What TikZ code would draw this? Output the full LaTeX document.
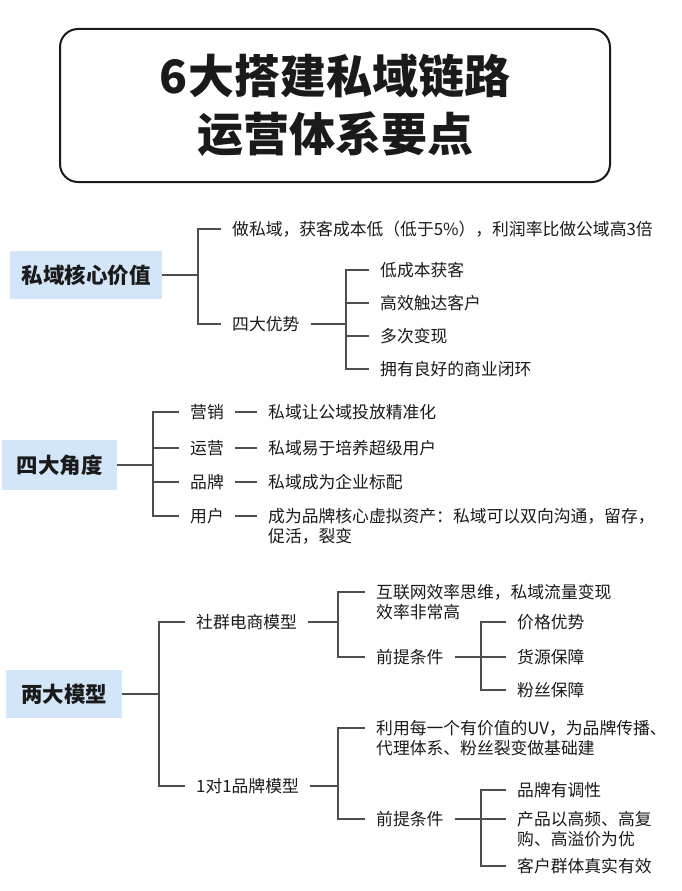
\documentclass[tikz,border=0pt]{standalone}
\usepackage{fontspec}
\setmainfont{Noto Sans CJK SC}
\usepackage{xcolor}
\usetikzlibrary{positioning}
\definecolor{boxblue}{HTML}{D3E5F8}
\definecolor{linegray}{HTML}{4D4D4D}
\definecolor{inkblack}{HTML}{1A1A1A}

\begin{document}
\begin{tikzpicture}[x=1pt, y=-1pt,
    every node/.style={inner sep=0pt, text=inkblack},
    titlebox/.style={draw=inkblack, line width=2pt, rounded corners=18pt,
      minimum width=550pt, minimum height=153pt, align=center,
      font=\fontsize{46}{58}\selectfont\bfseries},
    topic/.style={fill=boxblue, minimum height=48pt,
      font=\fontsize{21.5}{26}\selectfont\bfseries},
    leaf/.style={anchor=west, inner xsep=11pt, font=\fontsize{16.8}{20}\selectfont},
    multi/.style={leaf, anchor=base west, align=left},
    link/.style={draw=linegray, line width=1.6pt},
  ]

  \useasboundingbox[fill=white] (0,0) rectangle (682,891);

  \node[titlebox] (title) at (335,105.5) {6大搭建私域链路\\运营体系要点};

  \node[topic, minimum width=152pt] (core) at (86,275) {私域核心价值};
  \coordinate (jcore) at (198,275);
  \node[leaf] (cost) at (221,229) {做私域，获客成本低（低于5\%），利润率比做公域高3倍};
  \node[leaf] (adv) at (221,324) {四大优势};
  \coordinate (jadv) at (346,324);
  \node[leaf] (adv1) at (369,270) {低成本获客};
  \node[leaf] (adv2) at (369,303) {高效触达客户};
  \node[leaf] (adv3) at (369,336) {多次变现};
  \node[leaf] (adv4) at (369,369) {拥有良好的商业闭环};

  \draw[link] (core.east) -- (jcore);
  \draw[link] (jcore) |- (cost.west);
  \draw[link] (jcore) |- (adv.west);
  \draw[link] (adv.east) -- (jadv);
  \foreach \i in {1,...,4}
    \draw[link] (jadv) |- (adv\i.west);

  \node[topic, minimum width=115pt, minimum height=50pt] (angle) at (59.5,465) {四大角度};
  \coordinate (jangle) at (153,465);
  \node[leaf] (mkt) at (179,412) {营销};
  \node[leaf] (ops) at (179,448) {运营};
  \node[leaf] (brand) at (179,482) {品牌};
  \node[leaf] (user) at (179,516) {用户};
  \node[leaf] (mktd) at (257,412) {私域让公域投放精准化};
  \node[leaf] (opsd) at (257,448) {私域易于培养超级用户};
  \node[leaf] (brandd) at (257,482) {私域成为企业标配};
  \node[multi] (userd) at (257,542.3) {成为品牌核心虚拟资产：私域可以双向沟通，留存，\\促活，裂变};

  \draw[link] (angle.east) -- (jangle);
  \foreach \n in {mkt,ops,brand,user}
    \draw[link] (jangle) |- (\n.west);
  \draw[link] (mkt.east) -- (mktd.west);
  \draw[link] (ops.east) -- (opsd.west);
  \draw[link] (brand.east) -- (brandd.west);
  \draw[link] (user.east) -- (user.east -| userd.west);

  \node[topic, minimum width=116pt] (model) at (64,694) {两大模型};
  \coordinate (jmodel) at (159,694);
  \node[leaf] (comm) at (185,622) {社群电商模型};
  \node[leaf] (one) at (185,786) {1对1品牌模型};
  \coordinate (jcomm) at (338,622);
  \node[multi] (eff) at (365,618.3) {互联网效率思维，私域流量变现\\效率非常高};
  \node[leaf] (pre) at (365,657) {前提条件};
  \coordinate (jpre) at (481,657);
  \node[leaf] (pre1) at (506,622) {价格优势};
  \node[leaf] (pre2) at (506,657) {货源保障};
  \node[leaf] (pre3) at (506,690) {粉丝保障};
  \coordinate (jone) at (338,786);
  \node[multi] (uv) at (365,754.3) {利用每一个有价值的UV，为品牌传播、\\代理体系、粉丝裂变做基础建};
  \node[leaf] (pretwo) at (365,819) {前提条件};
  \coordinate (jpretwo) at (481,819);
  \node[leaf] (cond1) at (506,790) {品牌有调性};
  \node[multi] (cond2) at (506,845.3) {产品以高频、高复\\购、高溢价为优};
  \node[leaf] (cond3) at (506,866) {客户群体真实有效};

  \draw[link] (model.east) -- (jmodel);
  \draw[link] (jmodel) |- (comm.west);
  \draw[link] (jmodel) |- (one.west);
  \draw[link] (comm.east) -- (jcomm);
  \draw[link] (jcomm) |- ([yshift=26.3pt]eff.base west);
  \draw[link] (jcomm) |- (pre.west);
  \draw[link] (pre.east) -- (pre2.west);
  \draw[link] (jpre) |- (pre1.west);
  \draw[link] (jpre) |- (pre3.west);
  \draw[link] (one.east) -- (jone);
  \draw[link] (jone) |- ([yshift=26.3pt]uv.base west);
  \draw[link] (jone) |- (pretwo.west);
  \draw[link] (pretwo.east) -- (cond2.west |- pretwo.east);
  \draw[link] (jpretwo) |- (cond1.west);
  \draw[link] (jpretwo) |- (cond3.west);

\end{tikzpicture}
\end{document}
